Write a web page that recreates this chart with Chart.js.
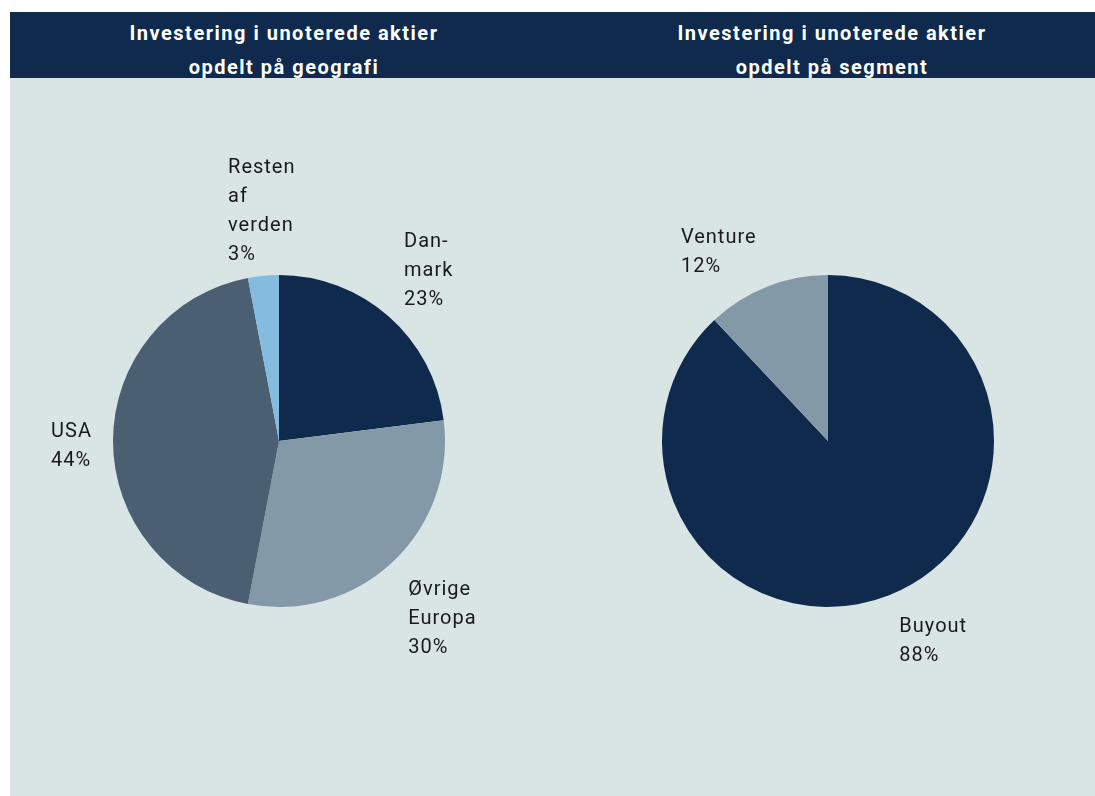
<!DOCTYPE html>
<html><head><meta charset="utf-8">
<script src="https://cdn.jsdelivr.net/npm/chart.js@4.4.1/dist/chart.umd.min.js"></script>
<style>
html,body{margin:0;padding:0;background:#fff;width:1095px;height:796px;overflow:hidden;}
#panel{position:absolute;left:10px;top:12px;width:1085px;height:784px;background:#d9e4e4;}
#header{position:absolute;left:10px;top:12px;width:1085px;height:66px;background:#0f2a4c;}
.title{position:absolute;top:12px;width:460px;color:#fff;font-family:Roboto,sans-serif;font-weight:bold;font-size:20px;line-height:34px;text-align:center;letter-spacing:1.5px;}
canvas{position:absolute;}
</style></head><body>
<div id="panel"></div>
<div id="header"></div>
<div class="title" id="t1" style="left:54px;top:16px">Investering i unoterede aktier<br>opdelt på geografi</div>
<div class="title" id="t2" style="left:602px;top:16px">Investering i unoterede aktier<br>opdelt på segment</div>
<div id="w1" style="position:absolute;left:10px;top:78px;width:538px;height:718px"><canvas id="c1"></canvas></div>
<div id="w2" style="position:absolute;left:548px;top:78px;width:547px;height:718px"><canvas id="c2"></canvas></div>
<script>
// Data
const geoLabels = [["Dan-","mark"], ["Øvrige","Europa"], ["USA"], ["Resten","af","verden"]];
const geoValues = [23, 30, 44, 3];
const geoColors = ["#0f2a4c", "#8399a8", "#4a5f72", "#86bbe0"];
const segLabels = [["Buyout"], ["Venture"]];
const segValues = [88, 12];
const segColors = ["#0f2a4c", "#8399a8"];

const labelPlugin = {
  id: 'outLabels',
  afterDatasetsDraw(chart, args, opts) {
    const ctx = chart.ctx;
    const meta = chart.getDatasetMeta(0);
    const ds = chart.data.datasets[0];
    const total = ds.data.reduce((a,b)=>a+b,0);
    ctx.save();
    ctx.font = '20px Roboto, sans-serif';
    try { ctx.letterSpacing = '1px'; } catch (e) {}
    ctx.fillStyle = '#1a1a1a';
    ctx.textBaseline = 'middle';
    ctx.textAlign = 'left';
    const lh = 29, gap = 17, hpad = 4;
    meta.data.forEach((arc, i) => {
      const mid = (arc.startAngle + arc.endAngle) / 2;
      const r = arc.outerRadius + gap;
      const ax = arc.x + Math.cos(mid) * r;
      const ay = arc.y + Math.sin(mid) * r;
      const lines = chart.data.labels[i].concat([Math.round(ds.data[i] / total * 100) + '%']);
      let w = 0;
      lines.forEach(l => { w = Math.max(w, ctx.measureText(l).width); });
      const h = lines.length * lh;
      const c = Math.cos(mid), s = Math.sin(mid);
      let left, top;
      if (c > 0.3) left = ax + hpad; else if (c < -0.3) left = ax - w - hpad; else left = ax - w / 2;
      if (s > 0.3) top = ay + 1; else if (s < -0.3) top = ay - h + 11; else top = ay - h / 2 + 5;
      lines.forEach((l, j) => ctx.fillText(l, left, top + lh / 2 + j * lh));
    });
    ctx.restore();
  }
};

function makePie(id, labels, values, colors, pad) {
  new Chart(document.getElementById(id), {
    type: 'pie',
    data: { labels: labels, datasets: [{ data: values, backgroundColor: colors, borderWidth: 0 }] },
    options: {
      responsive: true, maintainAspectRatio: false, animation: false,
      layout: { padding: pad },
      plugins: { legend: { display: false }, tooltip: { enabled: false } }
    },
    plugins: [labelPlugin]
  });
}
makePie('c1', geoLabels, geoValues, geoColors, { left: 103, right: 103, top: 197, bottom: 189 });
makePie('c2', segLabels, segValues, segColors, { left: 114, right: 101, top: 197, bottom: 189 });
</script>
</body></html>
